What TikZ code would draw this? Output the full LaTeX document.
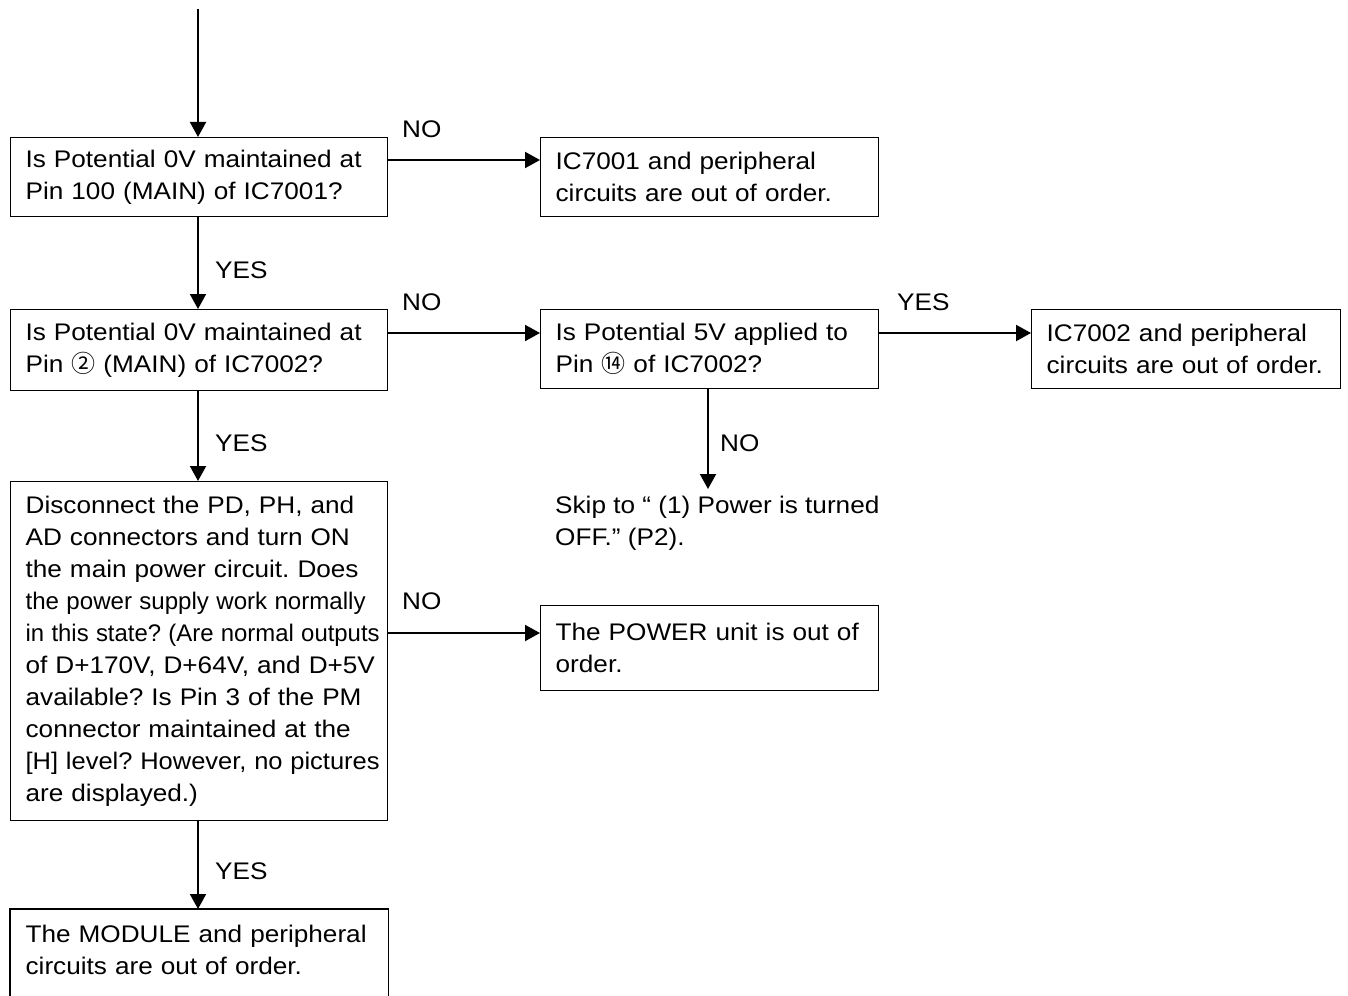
\documentclass[tikz,border=0pt]{standalone}
\usepackage{fontspec}
\setmainfont{Liberation Sans}[FakeStretch=1.09]
\newfontfamily\cjk{Noto Sans CJK JP}
\usetikzlibrary{arrows.meta}
% one unbreakable line, optionally squeezed to a given width
\newcommand\fl[1]{\mbox{#1}}
\newcommand\squeeze[2]{\resizebox{#1}{\height}{#2}}
\begin{document}
\frenchspacing
\begin{tikzpicture}[x=1pt,y=-1pt,
  font=\fontsize{24}{32}\selectfont\frenchspacing,
  box/.style={draw, line width=1.3pt, anchor=north west, align=left,
    inner xsep=15pt, inner ysep=0pt},
  lbl/.style={anchor=west, inner sep=0pt},
  arr/.style={line width=2pt, -{Triangle[length=15pt,width=16pt]}}]
\useasboundingbox (0,0) rectangle (1348,995);

% decision and result boxes
\node[box, text width=347pt, minimum height=79pt] (A) at (10,137)
  {\fl{Is Potential 0V maintained at}\\\fl{Pin 100 (MAIN) of IC7001?}};
\node[box, text width=308pt, minimum height=79pt] (B) at (540,137)
  {\fl{IC7001 and peripheral}\\\fl{circuits are out of order.}};
\node[box, text width=347pt, minimum height=81pt] (C) at (10,309)
  {\fl{Is Potential 0V maintained at}\\\fl{Pin {\cjk ②} (MAIN) of IC7002?}};
\node[box, text width=308pt, minimum height=79pt] (D) at (540,309)
  {\fl{Is Potential 5V applied to}\\\fl{Pin {\cjk ⑭} of IC7002?}};
\node[box, text width=279pt, minimum height=79pt] (E) at (1031,309)
  {\fl{IC7002 and peripheral}\\\fl{circuits are out of order.}};
\node[box, text width=347pt, minimum height=339pt] (F) at (10,481)
  {\fl{Disconnect the PD, PH, and}\\
   \fl{AD connectors and turn ON}\\
   \fl{the main power circuit. Does}\\
   \squeeze{340pt}{the power supply work normally}\\
   \squeeze{354pt}{in this state? (Are normal outputs}\\
   \fl{of D+170V, D+64V, and D+5V}\\
   \fl{available? Is Pin 3 of the PM}\\
   \fl{connector maintained at the}\\
   \squeeze{354pt}{[H] level? However, no pictures}\\
   \fl{are displayed.)}};
\node[box, text width=308pt, minimum height=85pt] (G) at (540,605)
  {\fl{The POWER unit is out of}\\\fl{order.}};
\node[box, draw=none, text width=347pt, minimum height=80pt] (H) at (10,909)
  {\fl{The MODULE and peripheral}\\\fl{circuits are out of order.}};
\draw[line width=1.3pt] (H.south west) ++(0,10) -- (H.north west) -- (H.north east) -- ++(0,90);

% jump note
\node[anchor=north west, align=left, inner xsep=15pt, inner ysep=0pt] (S) at (540,496)
  {\fl{Skip to “ (1) Power is turned}\\\fl{OFF.” (P2).}};

% connectors
\coordinate (top) at (198,9);
\draw[arr] (top) -- (top |- A.north);
\draw[arr] (A.south -| top) -- (C.north -| top);
\draw[arr] (C.south -| top) -- (F.north -| top);
\draw[arr] (F.south -| top) -- (H.north -| top);

\coordinate (a1) at ([yshift=-23pt]A.north east);
\draw[arr] (a1) -- (a1 -| B.west);
\coordinate (c1) at ([yshift=-24pt]C.north east);
\draw[arr] (c1) -- (c1 -| D.west);
\coordinate (d1) at ([yshift=-24pt]D.north east);
\draw[arr] (d1) -- (d1 -| E.west);
\coordinate (f1) at ([yshift=-152pt]F.north east);
\draw[arr] (f1) -- (f1 -| G.west);
\coordinate (d2) at (708,0);
\draw[arr] (D.south -| d2) -- ([yshift=7pt]S.north -| d2);

% branch labels
\node[lbl] (yes1) at (215,270) {YES};
\node[lbl] (yes2) at (215,443) {YES};
\node[lbl] (yes3) at (215,871) {YES};
\node[lbl] (no1) at (402,129) {NO};
\node[lbl] (no2) at (402,302) {NO};
\node[lbl] (no3) at (402,601) {NO};
\node[lbl] (yes4) at (897,302) {YES};
\node[lbl] (no4) at (720,443) {NO};
\end{tikzpicture}
\end{document}
